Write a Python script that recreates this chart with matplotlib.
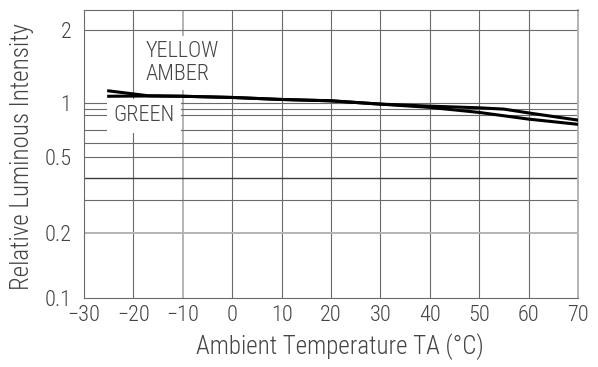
import matplotlib
matplotlib.use("Agg")
import matplotlib.pyplot as plt
import numpy as np

# relative luminous intensity vs ambient temperature
temp_amber = [-25, -17, -10, 0, 10, 20, 30, 40, 50, 60, 70]
iv_amber = [1.126, 1.075, 1.07, 1.058, 1.038, 1.025, 0.987, 0.929, 0.843, 0.772, 0.737]

temp_green = [-25, -17, -10, 0, 10, 20, 30, 40, 50, 55, 60, 70]
iv_green = [1.07, 1.073, 1.07, 1.058, 1.038, 1.025, 0.987, 0.951, 0.922, 0.90, 0.835, 0.765]

x_ticks = [-30, -20, -10, 0, 10, 20, 30, 40, 50, 60, 70]
y_ticks = [0.1, 0.2, 0.5, 1, 2]
y_ticks_label = ["0.1", "0.2", "0.5", "1", "2"]
y_minor = [0.3, 0.4, 0.6, 0.7, 0.8, 0.9]

# the printed chart paper is not a true log grid; spacing of its rulings
paper_val = np.array([0.05, 0.1, 0.2, 0.3, 0.4, 0.5, 0.6, 0.7, 0.8, 0.9, 1.0, 2.0, 3.0])
paper_pos = np.array([-64.7, 0, 64.7, 97.8, 119.7, 141, 155.5, 168, 183, 189, 194.7, 268, 310.9])
paper_log = np.log10(paper_val)

def fwd(v):
    v = np.clip(np.asarray(v, dtype=float), 1e-6, None)
    return np.interp(np.log10(v), paper_log, paper_pos)

def inv(p):
    return 10 ** np.interp(np.asarray(p, dtype=float), paper_pos, paper_log)

FONT = ["Roboto Condensed", "DejaVu Sans"]
TXT = "#444444"
GRID = "#6b6b6b"
LIGHT = "#b4b4b4"

fig = plt.figure(figsize=(5.98, 3.67), dpi=100)
ax = fig.add_axes([84 / 598, 1 - 298 / 367, 494 / 598, 288 / 367])
ax.set_yscale("function", functions=(fwd, inv))
ax.set_xlim(-30, 70)
ax.set_ylim(0.1, 2.42)

# rulings
for x in x_ticks[1:-1]:
    c, lw = (LIGHT, 1.4) if x == -10 else (GRID, 0.8)
    ax.axvline(x, color=c, lw=lw, zorder=1)
for y in y_ticks[1:] + y_minor:
    if y == 0.4:
        c, lw = "#3a3a3a", 1.0
    elif y == 0.2:
        c, lw = LIGHT, 1.4
    else:
        c, lw = GRID, 0.8
    ax.axhline(y, color=c, lw=lw, zorder=1)

for side in ["left", "bottom", "top"]:
    ax.spines[side].set_color(GRID)
    ax.spines[side].set_linewidth(0.8)
ax.spines["right"].set_color(LIGHT)
ax.spines["right"].set_linewidth(1.4)

ax.plot(temp_amber, iv_amber, color="black", lw=2.2, zorder=4)
ax.plot(temp_green, iv_green, color="black", lw=2.2, zorder=4)

ax.text(-17.6, 1.80, "YELLOW\nAMBER", family=FONT, weight="light", fontsize=16,
        color=TXT, ha="left", va="top", linespacing=1.1, zorder=3,
        bbox=dict(facecolor="white", edgecolor="none", pad=3.5))
ax.text(-24.0, 0.795, "GREEN", family=FONT, weight="light", fontsize=16,
        color=TXT, ha="left", va="center", zorder=3,
        bbox=dict(facecolor="white", edgecolor="none", pad=4.5))

ax.set_xticks(x_ticks)
ax.set_xticklabels([str(t).replace("-", "\u2212") for t in x_ticks])
ax.set_yticks(y_ticks)
ax.set_yticklabels(y_ticks_label)
ax.set_yticks([], minor=True)
ax.tick_params(axis="both", length=0, labelcolor=TXT, labelsize=16)
ax.tick_params(axis="x", pad=5)
ax.tick_params(axis="y", pad=9)
for lab in ax.get_xticklabels() + ax.get_yticklabels():
    lab.set_family(FONT)
    lab.set_weight("light")

ax.set_xlabel("Ambient Temperature TA (\u00b0C)", family=FONT, weight="light",
              fontsize=18, color=TXT)
ax.set_ylabel("Relative Luminous Intensity", family=FONT, weight="light",
              fontsize=18, color=TXT)
ax.xaxis.set_label_coords(0.517, -0.122)
ax.yaxis.set_label_coords(-0.102, 0.49)

fig.savefig("out.png", dpi=100)
